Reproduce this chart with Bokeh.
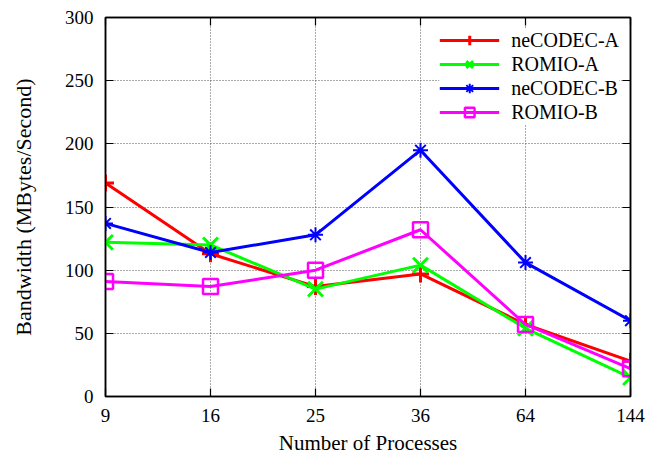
from bokeh.plotting import figure
from bokeh.models import Range1d, FixedTicker, LinearAxis, Legend, LegendItem
from bokeh.embed import file_html
from bokeh.resources import INLINE

processes = ["9", "16", "25", "36", "64", "144"]
necodec_a = [169, 113, 87, 97, 57, 28]
romio_a = [122, 120, 85, 104, 54, 15]
necodec_b = [137, 114, 128, 195, 106, 60]
romio_b = [91, 87, 100, 132, 57, 22]
y_ticks = [0, 50, 100, 150, 200, 250, 300]

FONT = "Liberation Serif"
x = list(range(len(processes)))

p = figure(width=660, height=457, output_backend="svg", toolbar_location=None,
           x_range=Range1d(0, len(processes) - 1), y_range=Range1d(0, 300),
           min_border_left=105, min_border_right=30, min_border_top=17, min_border_bottom=61)
p.background_fill_color = "white"
p.border_fill_color = "white"
p.outline_line_color = "black"
p.outline_line_width = 1.5

xt = FixedTicker(ticks=x)
yt = FixedTicker(ticks=y_ticks)
p.xaxis.ticker = xt
p.yaxis.ticker = yt
p.xaxis.major_label_overrides = {i: s for i, s in enumerate(processes)}

for ax in [p.xaxis[0], p.yaxis[0]]:
    ax.major_label_text_font = FONT
    ax.major_label_text_font_size = "19px"
    ax.major_label_text_color = "black"
    ax.axis_label_text_font = FONT
    ax.axis_label_text_font_size = "21px"
    ax.axis_label_text_font_style = "normal"
    ax.axis_label_text_color = "black"
    ax.major_tick_in = 8
    ax.major_tick_out = 0
    ax.minor_tick_line_color = None
    ax.axis_line_color = "black"
    ax.axis_line_width = 1.5
    ax.major_tick_line_width = 1.2

p.xaxis.axis_label = "Number of Processes"
p.yaxis.axis_label = "Bandwidth (MBytes/Second)"
p.yaxis.axis_label_text_font_size = "22px"
p.xaxis.major_label_standoff = 12
p.xaxis.axis_label_standoff = 6
p.yaxis.major_label_standoff = 12
p.yaxis.axis_label_standoff = 26

# mirror ticks (no labels)
right = LinearAxis(ticker=yt, major_label_overrides={t: "" for t in y_ticks},
                   major_label_standoff=0,
                   major_tick_in=8, major_tick_out=0, minor_tick_line_color=None,
                   axis_line_color="black", axis_line_width=1.5, major_tick_line_width=1.2)
top = LinearAxis(ticker=xt, major_label_overrides={i: "" for i in x},
                 major_label_standoff=0,
                 major_tick_in=8, major_tick_out=0, minor_tick_line_color=None,
                 axis_line_color="black", axis_line_width=1.5, major_tick_line_width=1.2)
p.add_layout(right, "right")
p.add_layout(top, "above")

p.xgrid.ticker = xt
p.ygrid.ticker = yt
p.grid.grid_line_color = "#555555"
p.grid.grid_line_dash = "1 2"
p.grid.grid_line_width = 1

series = [
    ("neCODEC-A", necodec_a, "#ff0000", "cross", 17, 3),
    ("ROMIO-A", romio_a, "#00ff00", "x", 21, 3),
    ("neCODEC-B", necodec_b, "#0000ff", "asterisk", 15, 2),
    ("ROMIO-B", romio_b, "#ff00ff", "square", 15, 2.5),
]
items = []
for name, ys, col, mk, sz, lw in series:
    l = p.line(x, ys, line_color=col, line_width=3)
    s = p.scatter(x, ys, marker=mk, size=sz, line_color=col, fill_color=None, line_width=lw)
    items.append(LegendItem(label=name, renderers=[l, s]))

legend = Legend(items=items, location="top_right")
legend.label_text_font = FONT
legend.label_text_font_size = "20px"
legend.label_text_color = "black"
legend.glyph_width = 60
legend.glyph_height = 24
legend.label_height = 24
legend.spacing = 0
legend.label_standoff = 12
legend.padding = 5
legend.margin = 11
legend.border_line_color = None
legend.background_fill_color = "white"
legend.background_fill_alpha = 1.0
p.add_layout(legend, "center")

open("out.html", "w").write(file_html(p, INLINE))
